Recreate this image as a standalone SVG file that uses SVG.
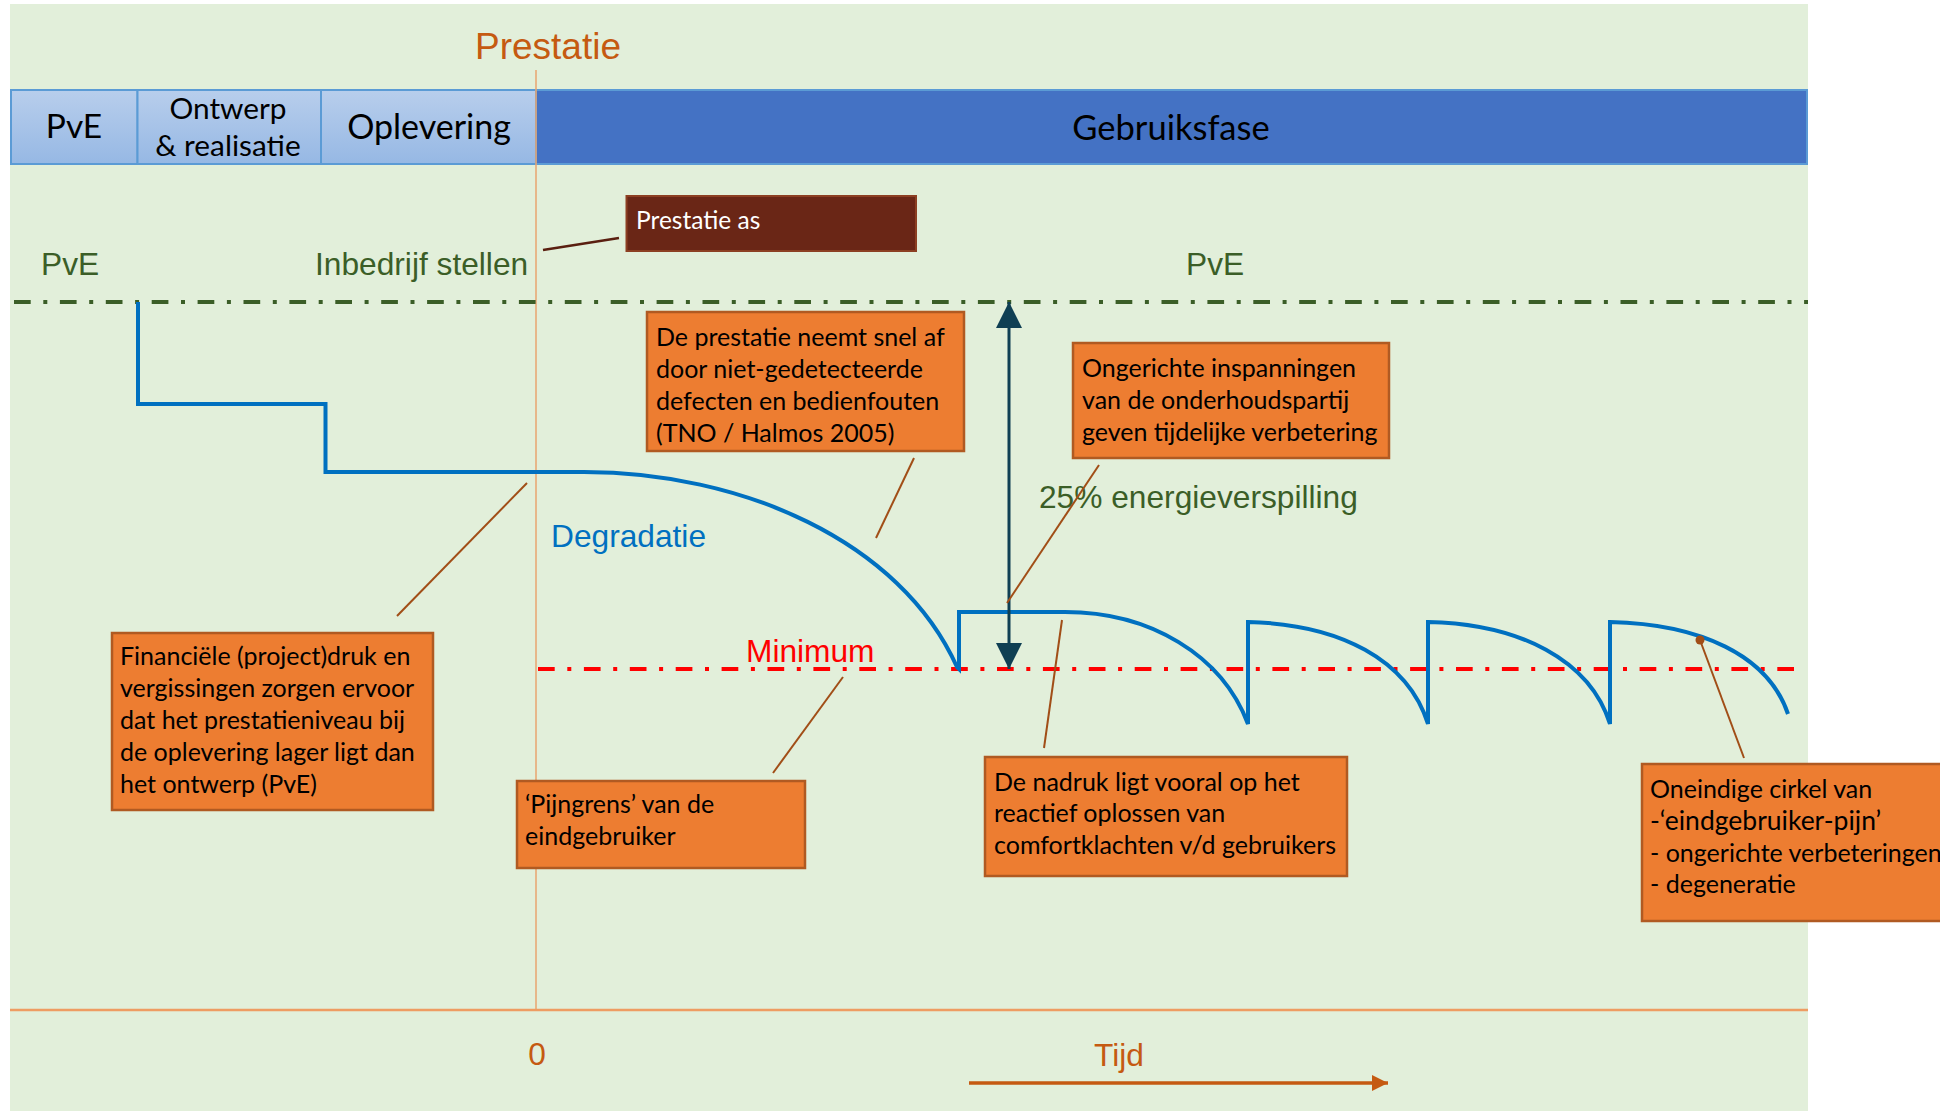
<svg xmlns="http://www.w3.org/2000/svg" width="1940" height="1111" viewBox="0 0 1940 1111">
<defs>
<linearGradient id="cellGrad" x1="0" y1="0" x2="0" y2="1">
<stop offset="0" stop-color="#B8CEEC"/>
<stop offset="1" stop-color="#96B8E4"/>
</linearGradient>
<marker id="darrow" viewBox="0 0 26 26" markerUnits="userSpaceOnUse" markerWidth="26" markerHeight="26" refX="26" refY="13" orient="auto-start-reverse">
<path d="M0,0 L26,13 L0,26 z" fill="#0F3F53"/>
</marker>
<marker id="tarrow" viewBox="0 0 16 16" markerUnits="userSpaceOnUse" markerWidth="16" markerHeight="16" refX="16" refY="8" orient="auto">
<path d="M0,0 L16,8 L0,16 z" fill="#C55A11"/>
</marker>
</defs>
<style>
.bg{fill:#E2EFDA}
.cell{fill:url(#cellGrad);stroke:#5B9BD5;stroke-width:2}
.cellDark{fill:#4472C4;stroke:#5B9BD5;stroke-width:2}
.phase{font-family:Lato,"Open Sans",sans-serif;font-size:34px;fill:#000;text-anchor:middle}
.arial{font-family:"Liberation Sans",Arial,sans-serif;font-size:31.7px}
.green{fill:#3B5E27}
.orangeT{fill:#C55A11}
.box{fill:#ED7D31;stroke:#B05A22;stroke-width:2.5}
.boxT{font-family:Lato,"Open Sans",sans-serif;font-size:25px;fill:#000}
.lead{stroke:#A14E17;stroke-width:2;fill:none}
.curve{stroke:#0070C0;stroke-width:4;fill:none;stroke-linejoin:miter}
.dashG{stroke:#3B5E27;stroke-width:4;stroke-dasharray:16.7 12.6 4 12.6;fill:none}
.dashR{stroke:#FF0000;stroke-width:4;stroke-dasharray:16.7 12.6 4 12.6;fill:none}
</style>

<rect class="bg" x="10" y="4" width="1798" height="1107"/>

<g id="phase-bar">
<g id="phase-pve">
<rect class="cell" x="11" y="90" width="126.5" height="74"/>
<text class="phase" x="74" y="138" style="font-size:33.5px">PvE</text>
</g>
<g id="phase-ontwerp">
<rect class="cell" x="137.5" y="90" width="183.5" height="74"/>
<text class="phase" x="228" y="119" style="font-size:29.8px">Ontwerp</text>
<text class="phase" x="228" y="156" style="font-size:29.8px">&amp; realisatie</text>
</g>
<g id="phase-oplevering">
<rect class="cell" x="321" y="90" width="215" height="74"/>
<text class="phase" x="429" y="139">Oplevering</text>
</g>
<g id="phase-gebruik">
<rect class="cellDark" x="536" y="90" width="1271" height="74"/>
<text class="phase" x="1171" y="140" style="font-size:34.5px">Gebruiksfase</text>
</g>
</g>

<g id="axes">
<line x1="536" y1="70" x2="536" y2="1010" stroke="#E9A56F" stroke-width="1.5"/>
<line x1="10" y1="1010" x2="1808" y2="1010" stroke="#EE9C62" stroke-width="2.5"/>
<text class="arial orangeT" x="475" y="59" style="font-size:37px">Prestatie</text>
<text class="arial orangeT" x="537" y="1065" text-anchor="middle">0</text>
<text class="arial orangeT" x="1094" y="1066">Tijd</text>
</g>

<g id="reference-lines">
<line class="dashG" x1="14" y1="302" x2="1808" y2="302"/>
<line class="dashR" x1="538" y1="669" x2="1794" y2="669"/>
</g>

<g id="labels">
<text class="arial green" x="41" y="275">PvE</text>
<text class="arial green" x="315" y="275">Inbedrijf stellen</text>
<text class="arial green" x="1186" y="275">PvE</text>
<text class="arial" x="551" y="547" fill="#0070C0">Degradatie</text>
<text class="arial green" x="1039" y="508">25% energieverspilling</text>
<text class="arial" x="746" y="662" fill="#FF0000">Minimum</text>
</g>

<g id="performance-curve">
<path class="curve" d="M138,302 V404 H325.5 V472 H584 C740,472 900,540 957,667 L959,669 V612 H1065 C1150,612 1222,655 1248,724 V622 C1340,624 1408,660 1428,724 V622 C1520,624 1590,660 1610,724 V622 C1700,624 1768,655 1788,714"/>
</g>

<g id="connectors">
<line x1="1009" y1="302" x2="1009" y2="669" stroke="#0F3F53" stroke-width="3" marker-start="url(#darrow)" marker-end="url(#darrow)"/>
<line x1="969" y1="1083" x2="1388" y2="1083" stroke="#C55A11" stroke-width="3.5" marker-end="url(#tarrow)"/>
<line x1="543" y1="250" x2="619" y2="238" stroke="#5A1F10" stroke-width="2.5"/>
<line class="lead" x1="914" y1="458" x2="876" y2="538"/>
<line class="lead" x1="1099" y1="465" x2="1007" y2="603"/>
<line class="lead" x1="527" y1="483" x2="397" y2="616"/>
<line class="lead" x1="843" y1="677" x2="773" y2="773"/>
<line class="lead" x1="1062" y1="620" x2="1044" y2="748"/>
<line class="lead" x1="1700" y1="640" x2="1744" y2="758"/>
<circle cx="1700" cy="640" r="4.5" fill="#A14E17"/>
</g>

<g id="node-prestatie-as">
<rect x="626.5" y="196" width="289.5" height="55" fill="#6A2616" stroke="#8C3F22" stroke-width="2"/>
<text class="boxT" x="636" y="229" style="fill:#FFFFFF;font-size:24.5px">Prestatie as</text>
</g>

<g id="node-degradatie-uitleg">
<rect class="box" x="647" y="312" width="317" height="139"/>
<text class="boxT"><tspan x="656" y="346">De prestatie neemt snel af</tspan><tspan x="656" y="378">door niet-gedetecteerde</tspan><tspan x="656" y="410">defecten en bedienfouten</tspan><tspan x="656" y="442">(TNO / Halmos 2005)</tspan></text>
</g>

<g id="node-ongerichte">
<rect class="box" x="1073" y="343" width="316" height="115"/>
<text class="boxT"><tspan x="1082" y="377">Ongerichte inspanningen</tspan><tspan x="1082" y="409">van de onderhoudspartij</tspan><tspan x="1082" y="441">geven tijdelijke verbetering</tspan></text>
</g>

<g id="node-financieel">
<rect class="box" x="112" y="633" width="321" height="177"/>
<text class="boxT"><tspan x="120" y="665">Financiële (project)druk en</tspan><tspan x="120" y="697">vergissingen zorgen ervoor</tspan><tspan x="120" y="729">dat het prestatieniveau bij</tspan><tspan x="120" y="761">de oplevering lager ligt dan</tspan><tspan x="120" y="793">het ontwerp (PvE)</tspan></text>
</g>

<g id="node-pijngrens">
<rect class="box" x="517" y="781" width="288" height="87"/>
<text class="boxT"><tspan x="525" y="813">‘Pijngrens’ van de</tspan><tspan x="525" y="845">eindgebruiker</tspan></text>
</g>

<g id="node-nadruk">
<rect class="box" x="985" y="757" width="362" height="119"/>
<text class="boxT"><tspan x="994" y="791">De nadruk ligt vooral op het</tspan><tspan x="994" y="822">reactief oplossen van</tspan><tspan x="994" y="854">comfortklachten v/d gebruikers</tspan></text>
</g>

<g id="node-oneindig">
<rect class="box" x="1642" y="764" width="310" height="157"/>
<text class="boxT"><tspan x="1650" y="798">Oneindige cirkel van</tspan><tspan x="1650" y="830" style="font-size:26.5px">-‘eindgebruiker-pijn’</tspan><tspan x="1650" y="862">- ongerichte verbeteringen</tspan><tspan x="1650" y="893">- degeneratie</tspan></text>
</g>
</svg>
